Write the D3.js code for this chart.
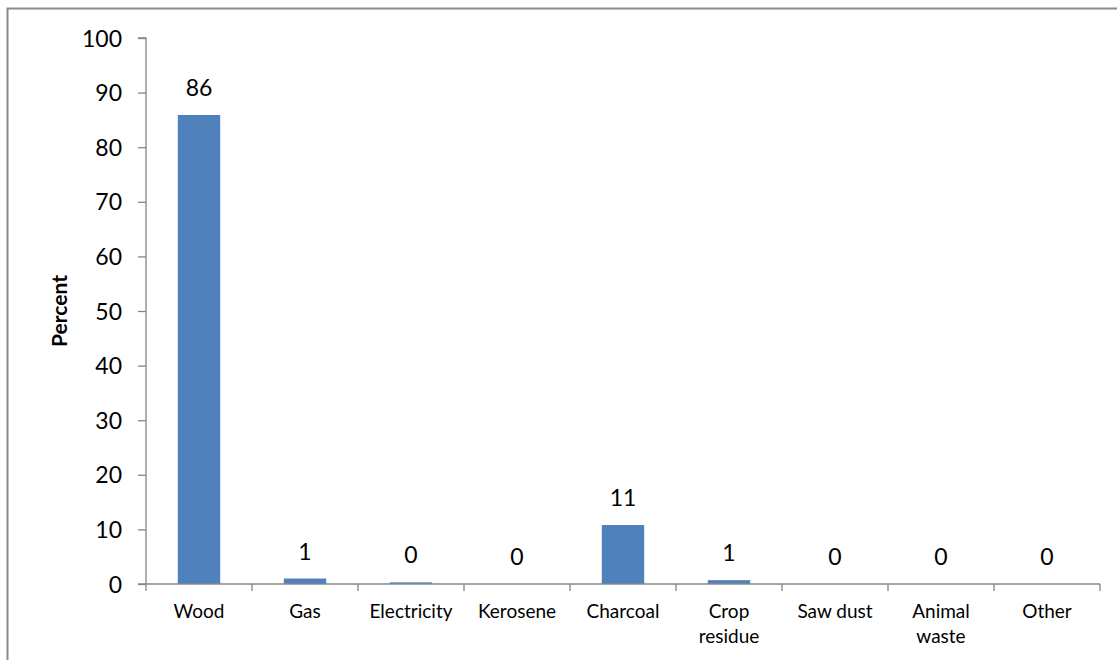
<!DOCTYPE html>
<html>
<head>
<meta charset="utf-8">
<script src="https://cdn.jsdelivr.net/npm/d3@7"></script>
<style>
  html, body { margin: 0; padding: 0; background: #fff; }
  svg { display: block; }
  text { font-family: Lato, "Open Sans", sans-serif; fill: #000; }
</style>
</head>
<body>
<svg id="chart" width="1117" height="660"></svg>
<script>
// Main cooking fuel, percent of households
const categories = ["Wood", "Gas", "Electricity", "Kerosene", "Charcoal", "Crop residue", "Saw dust", "Animal waste", "Other"];
const categoryLines = [["Wood"], ["Gas"], ["Electricity"], ["Kerosene"], ["Charcoal"], ["Crop", "residue"], ["Saw dust"], ["Animal", "waste"], ["Other"]];
const percents = [85.9, 1.0, 0.3, 0.0, 10.8, 0.7, 0.0, 0.0, 0.0];
const yTicks = [0, 10, 20, 30, 40, 50, 60, 70, 80, 90, 100];

const svg = d3.select("#chart");
const W = 1117, H = 660;
const plot = { left: 146, right: 1100, top: 38, bottom: 584 };

// Chart frame (extends past the visible window on right and bottom)
svg.append("rect")
  .attr("x", 7.5).attr("y", 8.5)
  .attr("width", W + 20).attr("height", H + 20)
  .attr("fill", "none")
  .attr("stroke", "#8a8a8a")
  .attr("stroke-width", 2);

const x = d3.scaleBand()
  .domain(categories)
  .range([plot.left, plot.right])
  .paddingInner(0.6)
  .paddingOuter(0.3);

const y = d3.scaleLinear()
  .domain([0, 100])
  .range([plot.bottom, plot.top]);

// Bars
svg.append("g").selectAll("rect")
  .data(categories)
  .join("rect")
  .attr("x", d => x(d))
  .attr("width", x.bandwidth())
  .attr("y", (d, i) => y(percents[i]))
  .attr("height", (d, i) => y(0) - y(percents[i]))
  .attr("fill", "#4f81bd");

// Y axis
const yAxis = svg.append("g")
  .attr("transform", `translate(${plot.left},0)`)
  .call(d3.axisLeft(y).tickValues(yTicks).tickSize(8).tickPadding(16).tickFormat(d3.format("d")));
yAxis.selectAll("line, path").attr("stroke", "#868686").attr("stroke-width", 1.3);
yAxis.select(".domain").attr("d", `M-8,${plot.top}H0V${plot.bottom}`);
yAxis.selectAll("text")
  .style("font-size", "23px")
  .attr("dy", "0.35em");

// X axis: ticks on category boundaries
const xAxisG = svg.append("g").attr("transform", `translate(0,${plot.bottom})`);
xAxisG.append("line")
  .attr("x1", plot.left - 8).attr("x2", plot.right)
  .attr("stroke", "#868686").attr("stroke-width", 1.3);
const step = x.step();
const boundaries = d3.range(categories.length + 1).map(i => plot.left + i * step);
xAxisG.selectAll("line.tick")
  .data(boundaries)
  .join("line")
  .attr("class", "tick")
  .attr("x1", d => d).attr("x2", d => d)
  .attr("y1", 0).attr("y2", 7)
  .attr("stroke", "#868686").attr("stroke-width", 1.3);

// Category labels
const catLabels = xAxisG.selectAll("text.cat")
  .data(categories)
  .join("text")
  .attr("class", "cat")
  .attr("text-anchor", "middle")
  .attr("x", d => x(d) + x.bandwidth() / 2)
  .attr("y", 34)
  .style("font-size", "19px");
catLabels.each(function(d, i) {
  const t = d3.select(this);
  categoryLines[i].forEach((line, j) => {
    t.append("tspan")
      .attr("x", x(d) + x.bandwidth() / 2)
      .attr("dy", j === 0 ? 0 : 25)
      .text(line);
  });
});

// Value labels above bars
svg.append("g").selectAll("text")
  .data(categories)
  .join("text")
  .attr("text-anchor", "middle")
  .attr("x", d => x(d) + x.bandwidth() / 2)
  .attr("y", (d, i) => y(percents[i]) - 19)
  .style("font-size", "23px")
  .text((d, i) => d3.format(".0f")(percents[i]));

// Y axis title
svg.append("text")
  .attr("transform", `translate(67,${(plot.top + plot.bottom) / 2}) rotate(-90)`)
  .attr("text-anchor", "middle")
  .style("font-size", "21px")
  .style("font-weight", "bold")
  .text("Percent");
</script>
</body>
</html>
